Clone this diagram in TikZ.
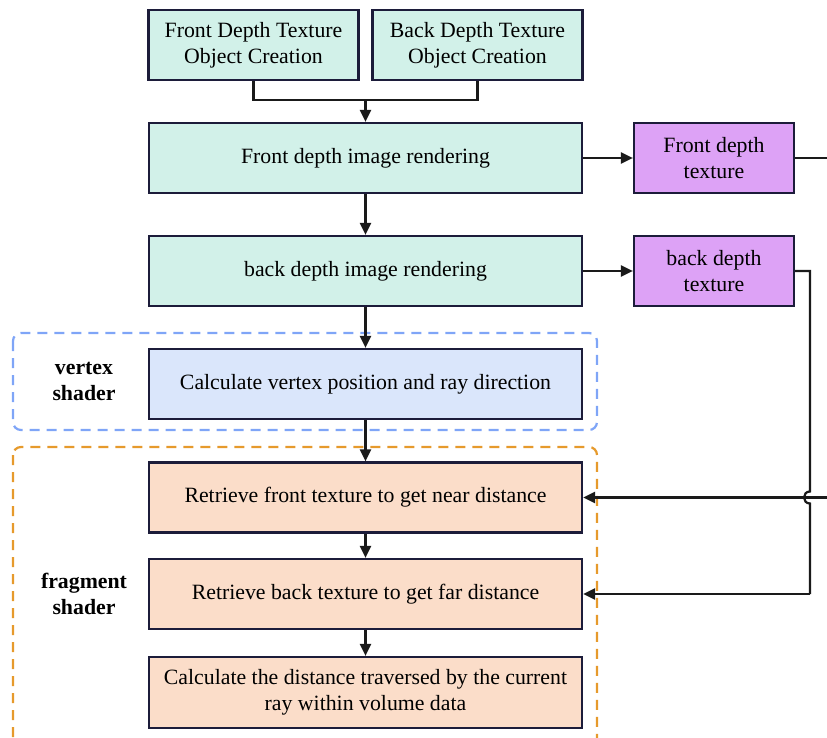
\documentclass[tikz,border=0pt]{standalone}
\usepackage{fontspec}
\setmainfont{Liberation Serif}
\usetikzlibrary{arrows.meta,calc}

\definecolor{edgecol}{HTML}{1C1C3A}
\definecolor{linecol}{HTML}{1A1A1A}
\definecolor{tealfill}{HTML}{D2F1E9}
\definecolor{purplefill}{HTML}{DDA2F6}
\definecolor{bluefill}{HTML}{DAE6FB}
\definecolor{peachfill}{HTML}{FBDDC9}
\definecolor{blueframe}{HTML}{7FA5F7}
\definecolor{orangeframe}{HTML}{E69A2C}

\tikzset{
  box/.style={draw=edgecol, line width=2.2pt, align=center, inner sep=0pt,
    font=\fontsize{21.8}{26}\selectfont},
  setupbox/.style={box, fill=tealfill},
  texbox/.style={box, fill=purplefill, minimum width=160pt, minimum height=70pt},
  vertbox/.style={box, fill=bluefill},
  fragbox/.style={box, fill=peachfill},
  widebox/.style={minimum width=433pt, minimum height=70pt},
  arr/.style={draw=linecol, line width=2.2pt,
    -{Triangle[length=12pt 0 0,width=11pt 0 0]}},
  plain/.style={draw=linecol, line width=2.2pt},
  frame/.style={line width=2.2pt, dash pattern=on 10pt off 7pt, rounded corners=8pt},
  stagelabel/.style={align=center, font=\fontsize{21.8}{26}\selectfont\bfseries}
}

\begin{document}
\begin{tikzpicture}[x=1pt, y=-1pt]
  \useasboundingbox (0,0) rectangle (827,738);
  \clip (0,0) rectangle (827,738);

  % shader stage frames
  \draw[frame, draw=blueframe] (13,333) rectangle (597,430);
  \draw[frame, draw=orangeframe] (13,447) rectangle (597,770);

  % texture object creation
  \node[setupbox, minimum width=210pt, minimum height=70pt] (fcreate) at (253.5,45)
    {Front Depth Texture\\Object Creation};
  \node[setupbox, minimum width=210pt, minimum height=70pt] (bcreate) at (477.5,45)
    {Back Depth Texture\\Object Creation};

  % depth passes
  \node[setupbox, widebox] (frender) at (365.5,158) {Front depth image rendering};
  \node[setupbox, widebox] (brender) at (365.5,271) {back depth image rendering};

  % resulting textures
  \node[texbox] (ftex) at (714,158) {Front depth\\texture};
  \node[texbox] (btex) at (714,271) {back depth\\texture};

  % vertex shader
  \node[vertbox, widebox] (vpos) at (365.5,384) {Calculate vertex position and ray direction};
  \node[stagelabel] (vlabel) at (84,381) {vertex\\shader};

  % fragment shader
  \node[fragbox, widebox] (rfront) at (365.5,497.5) {Retrieve front texture to get near distance};
  \node[fragbox, widebox] (rback) at (365.5,594) {Retrieve back texture to get far distance};
  \node[fragbox, widebox, minimum height=71pt] (calc) at (365.5,692.5)
    {Calculate the distance traversed by the current\\ray within volume data};
  \node[stagelabel] (flabel) at (84,594) {fragment\\shader};

  % merge of the two creation steps
  \coordinate (join) at (365.5,100);
  \draw[plain] (fcreate.south) |- (join);
  \draw[plain] (bcreate.south) |- (join);
  \draw[arr] (join) -- (frender.north);

  % main flow
  \draw[arr] (frender) -- (brender);
  \draw[arr] (brender) -- (vpos);
  \draw[arr] (vpos) -- (rfront);
  \draw[arr] (rfront) -- (rback);
  \draw[arr] (rback) -- (calc);

  % rendering into textures
  \draw[arr] (frender.east) -- (ftex.west);
  \draw[arr] (brender.east) -- (btex.west);

  % front texture feeds the near-distance lookup (routed past the right edge)
  \coordinate (fout) at (845,158);
  \coordinate (fin) at (845,497.5);
  \draw[plain] (ftex.east) -- (fout);
  \draw[arr] (fin) -- (rfront.east);

  % back texture feeds the far-distance lookup, hopping over the front route
  \coordinate (bturn) at (810,271);
  \coordinate (hopa) at (810,491.5);
  \coordinate (hopb) at (810,503.5);
  \coordinate (bdown) at (810,594);
  \draw[plain] (btex.east) -- (bturn) -- (hopa)
    .. controls (802,491.5) and (802,503.5) .. (hopb) -- (bdown);
  \draw[arr] (bdown) -- (rback.east);
\end{tikzpicture}
\end{document}
